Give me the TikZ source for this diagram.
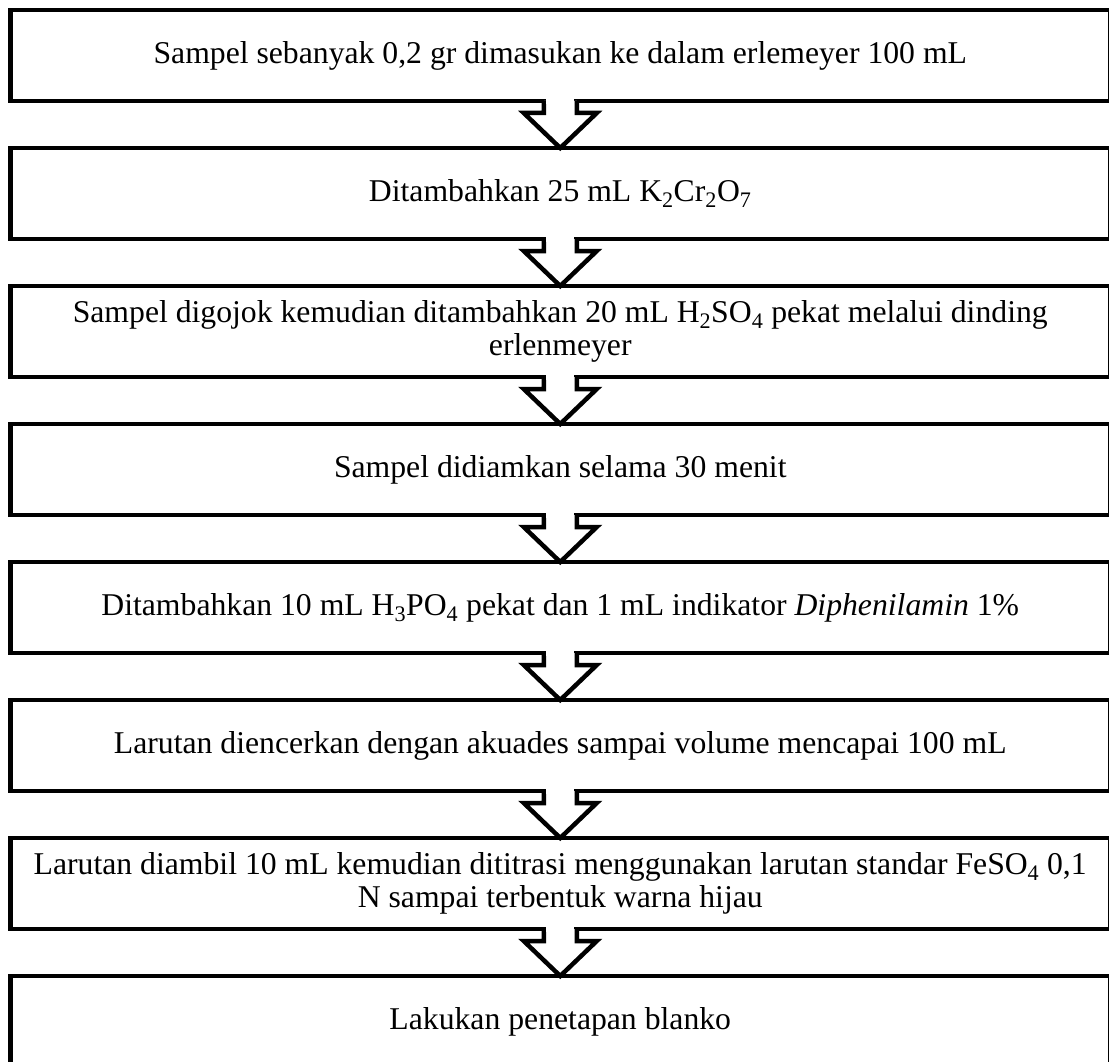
\documentclass[tikz,border=0pt]{standalone}
\usepackage{fontspec}
\setmainfont{Liberation Serif}
\usetikzlibrary{positioning,calc}

\tikzset{
  stepbox/.style={draw,line width=4.5pt,minimum width=1099.5pt,minimum height=91pt,
    inner sep=0pt,outer sep=0pt,align=center,font=\fontsize{31.7}{33.5}\selectfont},
  flowarrow/.style={draw,fill=white,line width=4.5pt,line join=miter}
}

\begin{document}
\begin{tikzpicture}[x=1pt,y=-1pt,node distance=47pt]
    \useasboundingbox (0,0) rectangle (1109,1062);
    \node[stepbox](s1) at (560.25,55.5){Sampel sebanyak 0,2 gr dimasukan ke dalam erlemeyer 100 mL};
    \node[stepbox,below=of s1](s2){Ditambahkan 25 mL K\textsubscript{2}Cr\textsubscript{2}O\textsubscript{7}};
    \node[stepbox,below=of s2](s3){Sampel digojok kemudian ditambahkan 20 mL H\textsubscript{2}SO\textsubscript{4} pekat melalui dinding\\ erlenmeyer};
    \node[stepbox,below=of s3](s4){Sampel didiamkan selama 30 menit};
    \node[stepbox,below=of s4](s5){Ditambahkan 10 mL H\textsubscript{3}PO\textsubscript{4} pekat dan 1 mL indikator \textit{Diphenilamin} 1\%};
    \node[stepbox,below=of s5](s6){Larutan diencerkan dengan akuades sampai volume mencapai 100 mL};
    \node[stepbox,below=of s6](s7){Larutan diambil 10 mL kemudian dititrasi menggunakan larutan standar FeSO\textsubscript{4} 0,1\\ N sampai terbentuk warna hijau};
    \node[stepbox,below=of s7](s8){Lakukan penetapan blanko};
    % hollow block arrows between the steps
    \foreach \a/\b in {s1/s2,s2/s3,s3/s4,s4/s5,s5/s6,s6/s7,s7/s8}{
        \draw[flowarrow]($(\a.south)+(-16.5,0)$)--++(0,12)--++(-20,0)--(\b.north)
            --($(\a.south)+(36.5,12)$)--++(-20,0)--++(0,-12);
        \fill[white]($(\a.south)+(-14,-3)$)rectangle($(\a.south)+(14,3)$);
    }
\end{tikzpicture}
\end{document}
